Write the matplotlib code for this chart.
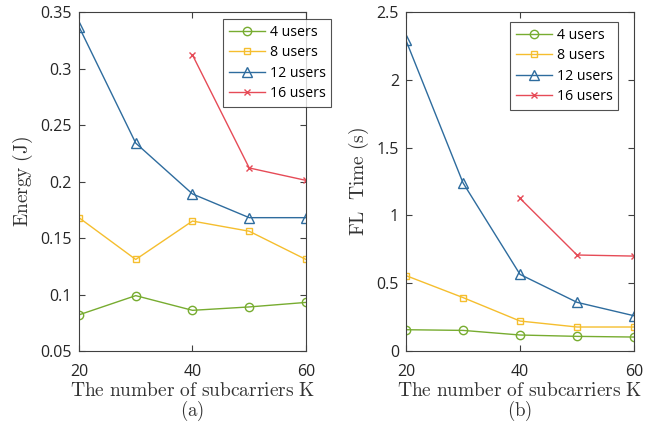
import matplotlib.pyplot as plt

plt.rcParams['mathtext.fontset'] = 'cm'
plt.rcParams['font.family'] = ['Open Sans', 'DejaVu Sans']

# data
K = [20, 30, 40, 50, 60]
K16 = [40, 50, 60]
labels = ['4 users', '8 users', '12 users', '16 users']

energy_4 = [0.082, 0.099, 0.086, 0.089, 0.093]
energy_8 = [0.168, 0.131, 0.165, 0.156, 0.131]
energy_12 = [0.337, 0.234, 0.189, 0.168, 0.168]
energy_16 = [0.312, 0.212, 0.201]

time_4 = [0.157, 0.152, 0.118, 0.108, 0.103]
time_8 = [0.556, 0.394, 0.221, 0.177, 0.177]
time_12 = [2.29, 1.24, 0.565, 0.359, 0.26]
time_16 = [1.126, 0.708, 0.70]

colors = ['#77AC30', '#F5BE2E', '#2E6C9E', '#E64B57']
markers = ['o', 's', '^', 'x']
msizes = [6, 5, 7, 5]

fig = plt.figure(figsize=(6.57, 4.23), dpi=100)
ax1 = fig.add_axes([0.1202, 0.1702, 0.3455, 0.8014])
ax2 = fig.add_axes([0.618, 0.1702, 0.347, 0.8014])

def draw(ax, xs, series, ylim, yticks, ytl, ylabel, cap, leg_pos):
    for x, y, c, m, ms, lab in zip(xs, series, colors, markers, msizes, labels):
        ax.plot(x, y, color=c, marker=m, markersize=ms, markerfacecolor='none',
                markeredgewidth=1.0, linewidth=1.0, label=lab)
    ax.set_xlim(20, 60)
    ax.set_ylim(*ylim)
    ax.set_xticks([20, 40, 60])
    ax.set_yticks(yticks)
    ax.set_yticklabels(ytl)
    ax.tick_params(direction='in', top=True, right=True, length=4, width=0.8,
                   labelsize=11.5, colors='#404040', labelcolor='#262626', pad=5)
    ax.tick_params(axis='x', pad=9)
    for s in ax.spines.values():
        s.set_color('#404040')
        s.set_linewidth(0.8)
    ax.set_xlabel(r'$\mathrm{The\ number\ of\ subcarriers\ K}$', fontsize=14,
                  color='#333333', labelpad=1.5)
    ax.set_ylabel(ylabel, fontsize=14, color='#333333', labelpad=4)
    ax.text(0.5, -0.178, cap, transform=ax.transAxes, ha='center', va='center',
            fontsize=13.5, color='#333333')
    leg = ax.legend(loc='upper left', bbox_to_anchor=leg_pos, fontsize=10.2,
                    frameon=True, fancybox=False, edgecolor='#262626',
                    handlelength=2.6, handletextpad=0.3, borderpad=0.4,
                    labelspacing=0.38, borderaxespad=0)
    leg.get_frame().set_linewidth(0.8)

draw(ax1, [K, K, K, K16], [energy_4, energy_8, energy_12, energy_16],
     (0.05, 0.35), [0.05, 0.1, 0.15, 0.2, 0.25, 0.3, 0.35],
     ['0.05', '0.1', '0.15', '0.2', '0.25', '0.3', '0.35'],
     r'$\mathrm{Energy\ (J)}$', r'$\mathrm{(a)}$', (0.634, 0.979))
draw(ax2, [K, K, K, K16], [time_4, time_8, time_12, time_16],
     (0, 2.5), [0, 0.5, 1, 1.5, 2, 2.5],
     ['0', '0.5', '1', '1.5', '2', '2.5'],
     r'$\mathrm{FL\ \ Time\ (s)}$', r'$\mathrm{(b)}$', (0.456, 0.970))

fig.savefig('out.png', dpi=100)
